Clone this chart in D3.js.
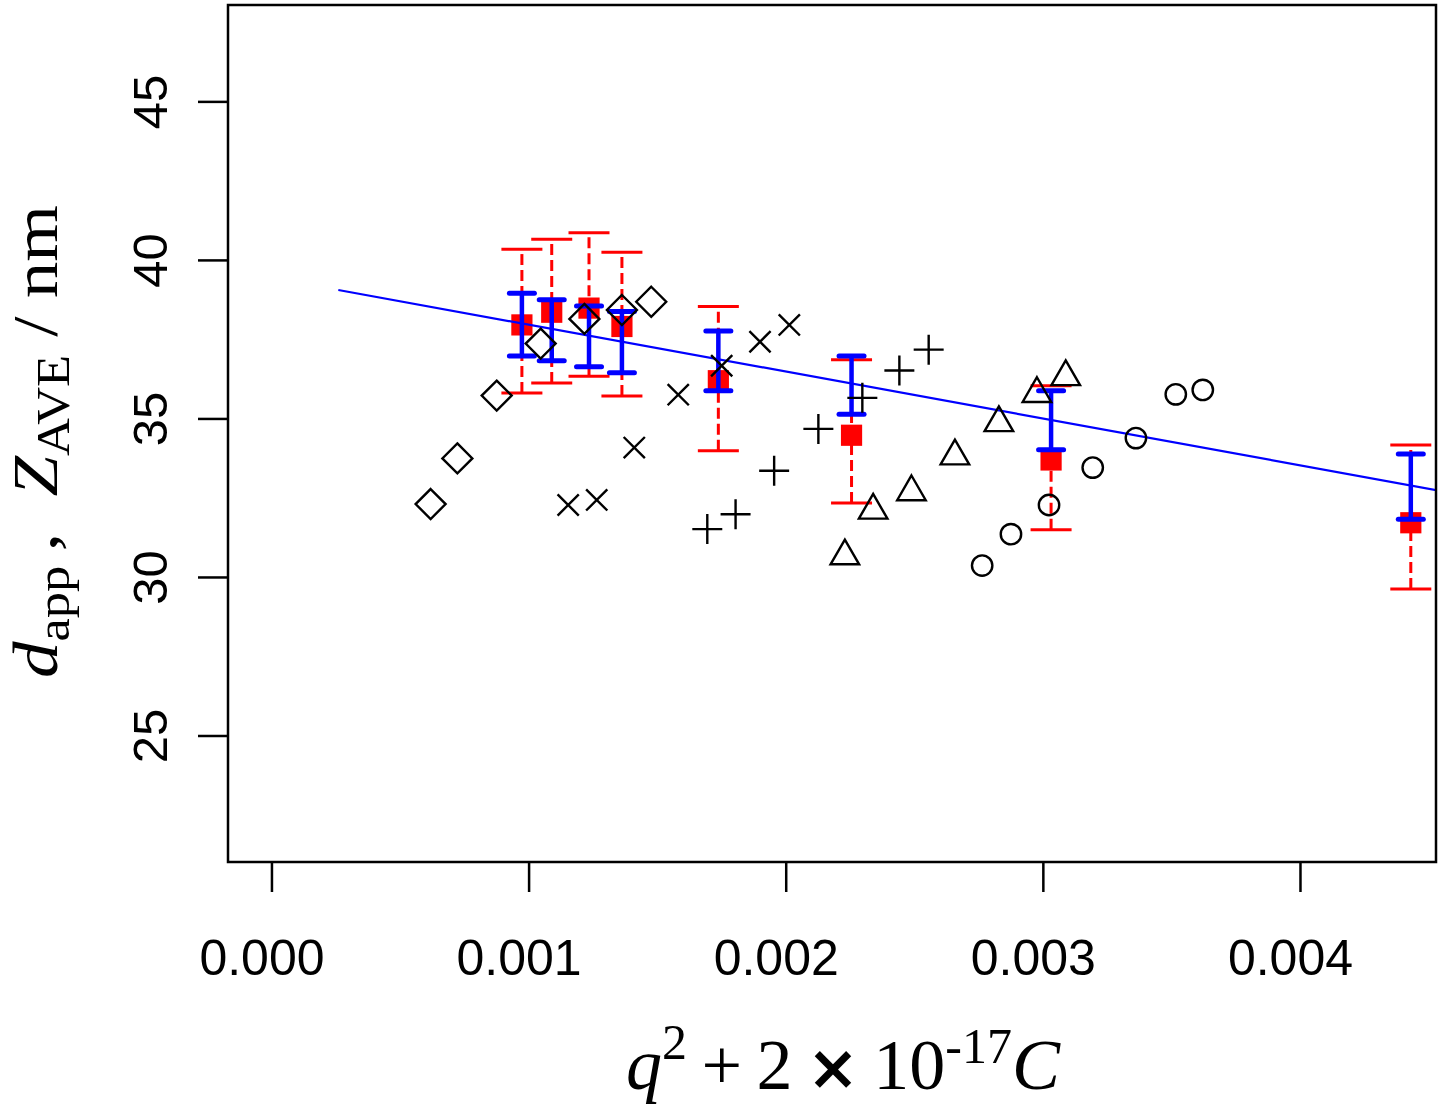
<!DOCTYPE html>
<html>
<head>
<meta charset="utf-8">
<script src="https://cdn.jsdelivr.net/npm/d3@7"></script>
<style>
  html, body { margin: 0; padding: 0; background: #fff; }
  svg { display: block; }
</style>
</head>
<body>
<svg id="chart" width="1440" height="1109"></svg>
<script>
// ---------------- data ----------------
const xTicks = [0, 0.001, 0.002, 0.003, 0.004];
const xTickLabels = ["0.000", "0.001", "0.002", "0.003", "0.004"];
const yTicks = [25, 30, 35, 40, 45];
const yTickLabels = ["25", "30", "35", "40", "45"];

// series: diamonds
const diamondX = [0.000619, 0.000723, 0.000876, 0.001047, 0.001217, 0.001363, 0.001477];
const diamondY = [32.30, 33.74, 35.72, 37.36, 38.14, 38.42, 38.68];
// series: crosses
const crossX = [0.001154, 0.001265, 0.001411, 0.001582, 0.001751, 0.001900, 0.002014];
const crossY = [32.27, 32.43, 34.08, 35.75, 36.66, 37.42, 37.95];
// series: plus
const plusX = [0.001695, 0.001805, 0.001955, 0.002127, 0.002298, 0.002442, 0.002556];
const plusY = [31.51, 31.98, 33.35, 34.67, 35.65, 36.51, 37.17];
// series: triangles
const triX = [0.002230, 0.002340, 0.002489, 0.002658, 0.002829, 0.002977, 0.003089];
const triY = [30.66, 32.10, 32.68, 33.81, 34.86, 35.78, 36.31];
// series: circles
const circX = [0.002764, 0.002876, 0.003024, 0.003194, 0.003362, 0.003517, 0.003622];
const circY = [30.36, 31.35, 32.27, 33.45, 34.38, 35.76, 35.90];

// apparent size d_app (red squares) with dashed error bars
const appX  = [0.000974, 0.001090, 0.001235, 0.001363, 0.001738, 0.002256, 0.003032, 0.004431];
const appY  = [37.95, 38.35, 38.48, 37.90, 36.19, 34.47, 33.69, 31.71];
const appHi = [40.34, 40.65, 40.86, 40.24, 38.53, 36.85, 36.03, 34.16];
const appLo = [35.80, 36.12, 36.33, 35.71, 33.98, 32.33, 31.49, 29.62];

// Z_AVE (blue solid error bars)
const zHi = [38.95, 38.74, 38.55, 38.37, 37.76, 36.97, 35.87, 33.88];
const zLo = [36.97, 36.82, 36.63, 36.44, 35.87, 35.13, 34.01, 31.82];

// fitted line
const fitX = [0.000260, 0.004530];
const fitY = [39.05, 32.74];

// ---------------- layout ----------------
const svg = d3.select("#chart");
const L = 228, R = 1436, T = 5, B = 862;

const x = d3.scaleLinear().domain([-0.000169, 0.004529]).range([L, R]);
const y = d3.scaleLinear().domain([21.01, 48.04]).range([B, T]);

svg.append("defs").append("clipPath").attr("id", "plotclip")
  .append("rect").attr("x", L).attr("y", T).attr("width", R - L).attr("height", B - T);

const plot = svg.append("g").attr("clip-path", "url(#plotclip)");

// red squares
const sq = 10.6;
plot.selectAll("rect.app").data(appX.map((d, i) => i)).enter().append("rect")
  .attr("x", i => x(appX[i]) - sq).attr("y", i => y(appY[i]) - sq)
  .attr("width", 2 * sq).attr("height", 2 * sq).attr("fill", "#ff0000");

// red dashed error bars
const redCap = 20.5;
const idx = appX.map((d, i) => i);
plot.selectAll("line.redv").data(idx).enter().append("line")
  .attr("x1", i => x(appX[i])).attr("x2", i => x(appX[i]))
  .attr("y1", i => y(appLo[i])).attr("y2", i => y(appHi[i]))
  .attr("stroke", "#ff0000").attr("stroke-width", 3).attr("stroke-dasharray", "11,5");
[appHi, appLo].forEach(arr => {
  plot.selectAll(null).data(idx).enter().append("line")
    .attr("x1", i => x(appX[i]) - redCap).attr("x2", i => x(appX[i]) + redCap)
    .attr("y1", i => y(arr[i])).attr("y2", i => y(arr[i]))
    .attr("stroke", "#ff0000").attr("stroke-width", 3);
});

// blue error bars
const blueCap = 12.5;
plot.selectAll("line.bluev").data(idx).enter().append("line")
  .attr("x1", i => x(appX[i])).attr("x2", i => x(appX[i]))
  .attr("y1", i => y(zLo[i])).attr("y2", i => y(zHi[i]))
  .attr("stroke", "#0000ff").attr("stroke-width", 4.5);
[zHi, zLo].forEach(arr => {
  plot.selectAll(null).data(idx).enter().append("line")
    .attr("x1", i => x(appX[i]) - blueCap).attr("x2", i => x(appX[i]) + blueCap)
    .attr("y1", i => y(arr[i])).attr("y2", i => y(arr[i]))
    .attr("stroke", "#0000ff").attr("stroke-width", 5).attr("stroke-linecap", "round");
});

// fitted line
plot.append("path")
  .attr("d", d3.line().x(d => x(d[0])).y(d => y(d[1]))(fitX.map((d, i) => [d, fitY[i]])))
  .attr("fill", "none").attr("stroke", "#0000ff").attr("stroke-width", 2.2);

// black symbols
const r0 = 10.6;
const sym = plot.append("g").attr("fill", "none").attr("stroke", "#000").attr("stroke-width", 2.4);
function pts(xs, ys) { return xs.map((d, i) => [x(d), y(ys[i])]); }

const dd = Math.SQRT2 * r0;
sym.selectAll(null).data(pts(diamondX, diamondY)).enter().append("path")
  .attr("d", p => `M${p[0]},${p[1] - dd}L${p[0] + dd},${p[1]}L${p[0]},${p[1] + dd}L${p[0] - dd},${p[1]}Z`);

sym.selectAll(null).data(pts(crossX, crossY)).enter().append("path")
  .attr("d", p => `M${p[0] - r0},${p[1] - r0}L${p[0] + r0},${p[1] + r0}M${p[0] - r0},${p[1] + r0}L${p[0] + r0},${p[1] - r0}`);

sym.selectAll(null).data(pts(plusX, plusY)).enter().append("path")
  .attr("d", p => `M${p[0] - dd},${p[1]}L${p[0] + dd},${p[1]}M${p[0]},${p[1] - dd}L${p[0]},${p[1] + dd}`);

const tr = 1.555 * r0, txc = tr * Math.sqrt(3) / 2, tyc = tr / 2;
sym.selectAll(null).data(pts(triX, triY)).enter().append("path")
  .attr("d", p => `M${p[0]},${p[1] - tr}L${p[0] + txc},${p[1] + tyc}L${p[0] - txc},${p[1] + tyc}Z`);

sym.selectAll(null).data(pts(circX, circY)).enter().append("circle")
  .attr("cx", p => p[0]).attr("cy", p => p[1]).attr("r", 10.2);

// box
svg.append("rect").attr("x", L).attr("y", T).attr("width", R - L).attr("height", B - T)
  .attr("fill", "none").attr("stroke", "#000").attr("stroke-width", 2.5);

// axes
const fontSans = "'Liberation Sans', Arial, Helvetica, sans-serif";
const xAxis = svg.append("g").attr("transform", `translate(0,${B})`)
  .call(d3.axisBottom(x).tickValues(xTicks).tickFormat((d, i) => xTickLabels[i]).tickSize(30));
xAxis.select(".domain").remove();
xAxis.selectAll(".tick line").attr("stroke", "#000").attr("stroke-width", 2.5);
xAxis.selectAll(".tick text").attr("x", -10).attr("y", 113).attr("dy", 0)
  .attr("font-family", fontSans).attr("font-size", 50).attr("fill", "#000");

const yAxis = svg.append("g").attr("transform", `translate(${L},0)`)
  .call(d3.axisLeft(y).tickValues(yTicks).tickFormat((d, i) => yTickLabels[i]).tickSize(30));
yAxis.select(".domain").remove();
yAxis.selectAll(".tick line").attr("stroke", "#000").attr("stroke-width", 2.5);
yAxis.selectAll(".tick text").attr("x", 0).attr("y", 0).attr("dy", 0)
  .attr("transform", "translate(-61,0) rotate(-90)")
  .attr("text-anchor", "middle")
  .attr("font-family", fontSans).attr("font-size", 49).attr("fill", "#000");

// x title
const serif = "'Liberation Serif', 'Times New Roman', Times, serif";
const xt = svg.append("text").attr("x", 843).attr("y", 1089).attr("text-anchor", "middle")
  .attr("font-family", serif).attr("font-size", 72).attr("fill", "#000");
xt.append("tspan").attr("font-style", "italic").text("q");
xt.append("tspan").attr("font-size", 50).attr("dy", -30).text("2");
xt.append("tspan").attr("dy", 30).text("\u2009+\u20092\u2009");
xt.append("tspan").attr("font-family", "'DejaVu Sans', sans-serif").attr("font-size", 62).attr("font-weight", "bold").text("\u00d7");
xt.append("tspan").text("\u200910");
xt.append("tspan").attr("font-size", 50).attr("dy", -26).text("-17");
xt.append("tspan").attr("dy", 26).attr("font-style", "italic").text("C");

// y title
const yg = svg.append("g");
const yt = yg.append("text").attr("x", 0).attr("y", 0)
  .attr("font-family", serif).attr("font-size", 64).attr("fill", "#000");
yt.append("tspan").attr("font-style", "italic").text("d");
yt.append("tspan").attr("font-size", 46).attr("dy", 12).text("app");
yt.append("tspan").attr("dy", -12).text("\u2009,\u2002");
yt.append("tspan").attr("font-style", "italic").text("Z");
yt.append("tspan").attr("font-size", 46).attr("dy", 12).text("AVE");
yt.append("tspan").attr("dy", -12).text(" / nm");
const bb = yt.node().getBBox();
const targetLen = 473;
const s = targetLen / bb.width;
yg.attr("transform", `translate(57,${441.5}) rotate(-90) scale(${s},1) translate(${-bb.x - bb.width / 2},0)`);
</script>
</body>
</html>
